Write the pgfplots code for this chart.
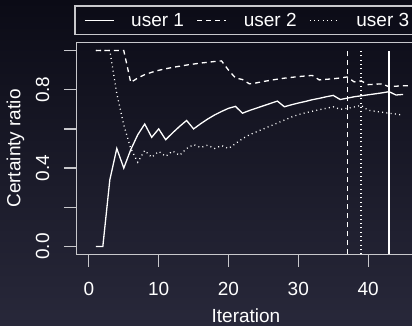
\documentclass[border=0pt]{standalone}
\usepackage{fontspec}
\setmainfont{Liberation Sans}
\usepackage{pgfplots}
\pgfplotsset{compat=1.18}

\definecolor{bgtop}{RGB}{11,11,22}
\definecolor{bgbot}{RGB}{40,40,58}
\definecolor{framecol}{RGB}{200,200,204}

\pgfplotsset{
  ldash/.style={dash pattern=on 5pt off 4pt},
  ldot/.style={dash pattern=on 1pt off 3.3pt},
}

\begin{document}
\begin{tikzpicture}
\useasboundingbox (0pt,0pt) rectangle (412pt,326pt);
\shade[top color=bgtop, bottom color=bgbot] (0pt,0pt) rectangle (412pt,326pt);
\clip (0pt,0pt) rectangle (412pt,326pt);
\begin{axis}[
  at={(76.3pt,71.7pt)}, anchor=south west,
  scale only axis, width=339.3pt, height=211.6pt,
  xmin=-1.8, xmax=46.8, ymin=-0.04, ymax=1.04,
  axis line style={framecol, line width=1.2pt},
  tick style={framecol, line width=1.2pt},
  tick align=outside, major tick length=12.5pt,
  xtick pos=lower, ytick pos=left,
  xtick={0,10,20,30,40}, xticklabels={0,10,20,30,40},
  ytick={0,0.2,0.4,0.6,0.8,1}, yticklabels={0.0,,0.4,,0.8,},
  tick label style={font=\fontsize{19}{22}\selectfont, text=white},
  xticklabel style={anchor=north, inner sep=0pt, yshift=-15pt},
  yticklabel style={xshift=-14.3pt, rotate=90, anchor=south, inner sep=0pt},
  xlabel={Iteration}, ylabel={Certainty ratio},
  label style={font=\fontsize{19}{22}\selectfont, text=white},
  xlabel style={at={(axis description cs:0.5,0)}, anchor=base, yshift=-68pt},
  ylabel style={at={([xshift=-55.8pt]axis description cs:0,0.5)}, anchor=base},
  every axis plot/.append style={white, line width=1.3pt, mark=none},
  legend columns=3,
  legend image code/.code={\draw[#1] (0pt,0pt) -- (29pt,0pt);},
  legend style={at={(axis description cs:0,1)}, anchor=south west,
    xshift=-2pt, yshift=7.4pt, draw=framecol, line width=1.2pt, fill=none,
    font=\fontsize{19}{22}\selectfont, text=white,
    inner xsep=9pt, inner ysep=7pt, nodes={inner sep=0pt},
    /tikz/every odd column/.append style={column sep=17pt},
    /tikz/every even column/.append style={column sep=12.5pt}},
]
% user 1
\addplot[solid] coordinates {
 (1,0) (2,0) (3,0.34) (4,0.50) (5,0.40) (6,0.494) (7,0.57) (8,0.625)
 (9,0.557) (10,0.60) (11,0.545) (12,0.58) (13,0.613) (14,0.643) (15,0.60)
 (16,0.626) (17,0.65) (18,0.671) (19,0.689) (20,0.705) (21,0.715) (22,0.68)
 (23,0.694) (24,0.706) (25,0.718) (26,0.73) (27,0.742) (28,0.713) (29,0.723)
 (30,0.732) (31,0.74) (32,0.749) (33,0.756) (34,0.764) (35,0.771) (36,0.75)
 (37,0.757) (38,0.764) (39,0.769) (40,0.774) (41,0.779) (42,0.784) (43,0.79)
 (44,0.773) (45,0.776)};
\addlegendentry{user 1}
% user 2
\addplot[ldash] coordinates {
 (1,1) (2,1) (3,1) (4,1) (5,1) (6,0.837) (7,0.86) (8,0.877) (9,0.889)
 (10,0.899) (11,0.907) (12,0.914) (13,0.92) (14,0.926) (15,0.931) (16,0.936)
 (17,0.94) (18,0.944) (19,0.947) (20,0.90) (21,0.86) (22,0.852) (23,0.83)
 (24,0.835) (25,0.842) (26,0.848) (27,0.854) (28,0.859) (29,0.863) (30,0.867)
 (31,0.870) (32,0.873) (33,0.85) (34,0.853) (35,0.856) (36,0.86) (37,0.865)
 (38,0.84) (39,0.845) (40,0.826) (41,0.828) (42,0.83) (43,0.815) (44,0.818)
 (45,0.82) (46,0.82)};
\addlegendentry{user 2}
% user 3
\addplot[ldot] coordinates {
 (1,1) (2,1) (3,1) (4,0.78) (5,0.62) (6,0.50) (7,0.43) (8,0.49) (9,0.455)
 (10,0.485) (11,0.46) (12,0.487) (13,0.465) (14,0.50) (15,0.52) (16,0.505)
 (17,0.517) (18,0.50) (19,0.515) (20,0.50) (21,0.525) (22,0.55) (23,0.57)
 (24,0.585) (25,0.60) (26,0.615) (27,0.63) (28,0.645) (29,0.66) (30,0.673)
 (31,0.682) (32,0.69) (33,0.698) (34,0.705) (35,0.713) (36,0.70) (37,0.705)
 (38,0.712) (39,0.72) (40,0.695) (41,0.69) (42,0.685) (43,0.68) (44,0.676)
 (45,0.67)};
\addlegendentry{user 3}
% stopping iterations
\addplot[ldash, forget plot] coordinates {(37,-0.04) (37,1)};
\addplot[ldot, forget plot] coordinates {(39,-0.04) (39,1)};
\addplot[solid, forget plot] coordinates {(43,-0.04) (43,1)};
\end{axis}
\end{tikzpicture}
\end{document}
